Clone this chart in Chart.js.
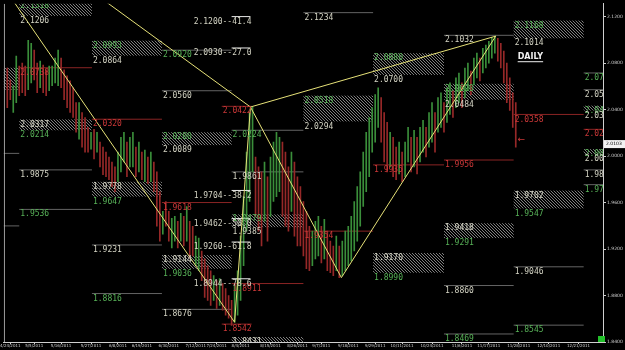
<!DOCTYPE html>
<html>
<head>
<meta charset="utf-8">
<script src="https://cdn.jsdelivr.net/npm/chart.js@4.4.1/dist/chart.umd.min.js"></script>
<style>
  html, body { margin: 0; padding: 0; background: #000; }
  canvas { display: block; }
</style>
</head>
<body>
<canvas id="c" width="625" height="350"></canvas>
<script>
// daily bars, bar index 1..171
const highs = [2.0758,2.0656,2.0605,2.0860,2.0775,2.0800,2.0775,2.0996,2.0971,2.0911,
  2.0800,2.0817,2.0783,2.0741,2.0775,2.0775,2.0843,2.0911,2.0843,2.0741,
  2.0690,2.0647,2.0588,2.0460,2.0460,2.0375,2.0332,2.0247,2.0205,2.0230,
  2.0205,2.0120,2.0077,2.0034,1.9992,1.9949,1.9907,2.0034,2.0162,2.0205,
  2.0120,2.0162,2.0205,2.0077,2.0120,2.0034,2.0051,1.9992,2.0034,1.9949,
  1.9864,1.9694,1.9524,1.9609,1.9524,1.9464,1.9481,1.9439,1.9507,1.9481,
  1.9566,1.9439,1.9396,1.9311,1.9294,1.9183,1.9115,1.9056,1.9013,1.8971,
  1.8928,1.8945,1.8903,1.8860,1.8800,1.8758,1.8886,1.9013,1.9311,1.9651,
  2.0034,2.0375,2.0422,1.9992,1.9907,1.9864,1.9949,1.9822,1.9992,2.0120,
  2.0205,2.0162,2.0120,2.0034,1.9907,2.0034,1.9949,1.9822,1.9737,1.9609,
  1.9524,1.9396,1.9354,1.9439,1.9481,1.9396,1.9456,1.9354,1.9268,1.9226,
  1.9311,1.9226,1.9268,1.9354,1.9396,1.9481,1.9609,1.9737,1.9864,2.0034,
  2.0205,2.0332,2.0417,2.0528,2.0588,2.0503,2.0375,2.0290,2.0205,2.0162,
  2.0077,2.0120,2.0034,2.0120,2.0247,2.0162,2.0222,2.0162,2.0247,2.0307,
  2.0247,2.0375,2.0460,2.0375,2.0503,2.0545,2.0460,2.0588,2.0630,2.0562,
  2.0673,2.0715,2.0630,2.0758,2.0800,2.0732,2.0843,2.0886,2.0843,2.0928,
  2.0954,2.0988,2.1022,2.1032,2.1013,2.0971,2.0903,2.0800,2.0673,2.0545,
  2.0460];
const lows = [2.0417,2.0486,2.0375,2.0460,2.0520,2.0545,2.0520,2.0571,2.0630,2.0656,
  2.0545,2.0588,2.0545,2.0520,2.0562,2.0605,2.0630,2.0605,2.0588,2.0486,
  2.0417,2.0375,2.0332,2.0205,2.0145,2.0077,2.0034,2.0034,2.0060,1.9975,
  2.0034,1.9907,1.9839,1.9822,1.9796,1.9737,1.9694,1.9779,1.9864,1.9949,
  1.9822,1.9907,1.9907,1.9822,1.9864,1.9796,1.9779,1.9762,1.9779,1.9694,
  1.9396,1.9268,1.9328,1.9396,1.9268,1.9209,1.9268,1.9209,1.9268,1.9226,
  1.9268,1.9124,1.9141,1.9056,1.9013,1.8928,1.8783,1.8758,1.8715,1.8758,
  1.8690,1.8715,1.8673,1.8630,1.8605,1.8542,1.8571,1.8630,1.8758,1.9056,
  1.9354,1.9609,1.9864,1.9481,1.9354,1.9226,1.9439,1.9268,1.9481,1.9609,
  1.9651,1.9694,1.9481,1.9396,1.9354,1.9524,1.9311,1.9226,1.9226,1.9141,
  1.9030,1.9013,1.9056,1.9115,1.9141,1.9081,1.9115,1.9013,1.8996,1.8971,
  1.9013,1.8954,1.8971,1.9013,1.9056,1.9098,1.9183,1.9268,1.9396,1.9566,
  1.9694,1.9822,2.0034,2.0120,2.0247,2.0120,1.9949,1.9864,1.9907,1.9822,
  1.9796,1.9847,1.9779,1.9822,1.9949,1.9864,1.9907,1.9847,1.9949,2.0034,
  1.9992,2.0077,2.0120,2.0034,2.0205,2.0247,2.0205,2.0290,2.0358,2.0332,
  2.0417,2.0460,2.0417,2.0503,2.0562,2.0528,2.0613,2.0673,2.0647,2.0715,
  2.0758,2.0800,2.0843,2.0886,2.0817,2.0758,2.0630,2.0460,2.0392,2.0247,
  2.0077];
// u = up bar, d = down bar
const dirs = "dduuddduud" + "dudduuuudd" + "ddddudddud" + "udddddduuu" + "duudududud" +
  "ddudduudud" + "udduuddddu" + "dudddduuuu" + "uuuddduduu" + "uudddudddd" +
  "dduuududdd" + "uduuuuuuuu" + "uuuuudddud" + "duduududuu" + "duuduuduud" +
  "uuduuduudu" + "uuuuddddddd";

const dateLabels = ["4/24/2011","5/5/2011","5/16/2011","5/27/2011","6/8/2011","6/19/2011",
  "6/30/2011","7/12/2011","7/24/2011","8/4/2011","8/15/2011","8/26/2011","9/7/2011",
  "9/18/2011","9/29/2011","10/11/2011","10/24/2011","11/6/2011","11/17/2011",
  "11/28/2011","12/10/2011","12/21/2011"];
const dateTickBars = [2,10,19,29,38,46,55,64,71,79,89,98,106,115,124,133,143,153,162,172,182,192];
const yTicks = [1.84,1.88,1.92,1.96,2.00,2.04,2.08,2.12];
const lastPrice = 2.0103;

// weekly columns for the level lines (bar units)
const colEdges = [-1, 5, 29.3, 52.7, 76, 100, 123.3, 147, 170.3, 193.7, 201];

const levelCol   = [0,0, 1,1,1, 2,2,2, 3,3,3,3, 4,4,4, 5,5, 6, 7,7,7,7, 8,8,8, 9,9,9,9,9];
const levelPrice = [2.0023,1.9399, 2.0760,1.9881,1.9541, 2.0317,1.9235,1.8817,
  2.0911,2.0562,1.9600,1.8681, 2.0222,1.9864,1.8903, 2.1234,1.9354, 1.9924,
  2.1039,1.9966,1.8886,1.8469, 2.0358,1.9047,1.8545, 2.0715,2.0571,2.0230,1.9881,1.9754];
const levelText  = ['','', '2.0738','1.9875','1.9536', '2.0320','1.9231','1.8816',
  '2.0920','2.0560','1.9618','1.8676', '2.0224','1.9861','1.8911', '2.1234','1.9354', '1.9935',
  '2.1032','1.9956','1.8860','1.8469', '2.0358','1.9046','1.8545', '2.0707','2.0571','2.0230','1.9862','1.9740'];
const levelKind  = ['w','w', 'r','w','g', 'r','w','g', 'g','w','r','w', 'g','w','r', 'w','r', 'r',
  'w','r','w','g', 'r','w','g', 'g','w','r','w','g'];

const boxCol    = [1,2,0,1,3,4,2,3,4,5,6,6,7,7,8,8,9,9];
const boxTop    = [2.1336,2.0993,2.0760,2.0315,2.0205,1.9498,1.9779,1.9149,1.8443,
  2.0520,2.0885,1.9166,2.0622,1.9422,2.1166,1.9703,2.0434,2.0060];
const boxBottom = [2.1206,2.0864,2.0571,2.0222,2.0094,1.9388,1.9651,1.9030,1.8390,
  2.0298,2.0698,1.8996,2.0485,1.9294,2.1013,1.9549,2.0392,2.0017];
const boxTopText    = ['2.1318','2.0993','','2.0317','2.0200','1.9479','1.9778','1.9144','1.8431',
  '2.0518','2.0880','1.9170','2.0620','1.9418','2.1168','1.9702','2.0434','2.0060'];
const boxBottomText = ['2.1206','2.0864','','2.0214','2.0089','1.9385','1.9647','1.9036','',
  '2.0294','2.0700','1.8990','2.0484','1.9291','2.1014','1.9547','2.0392','2.0017'];
const boxTone = ['g','g','','w','g','g','w','w','w','g','g','w','g','w','g','w','g','g'];

// swing pivots A and B
const pivotFrom  = [72.7, 72.7];
const pivotTo    = [82.7, 82.7];
const pivotPrice = [2.0428, 1.8554];
const pivotText  = ['2.0422', '1.8542'];

// fib retracement marks
const fibFrom  = 76;
const fibTo    = 82.3;
const fibPrice = [2.1200, 2.0930, 1.9704, 1.9462, 1.9260, 1.8944];
const fibPct   = ['41.4', '27.0', '38.2', '50.0', '61.8', '78.6'];

// harmonic pattern lines
const patX1 = [-0.9, 77, 82.3, 112.7, 164.3];
const patY1 = [2.1481, 1.857, 2.0422, 1.8954, 2.1032];
const patX2 = [25.8, 82.3, 164.3];
const patY2 = [2.1481, 2.0422, 2.1032];

const GREEN = '#3a8e3a', RED = '#962828';
const TXT_W = '#d4d4c4', TXT_G = '#58b258', TXT_R = '#cc3838';
const LINE_GREY = '#646464', LINE_RED = '#8a2424';
const YELLOW = '#e6e178';
const AXIS = '#cfcfcf';
const FONT = '8px "DejaVu Sans Mono"';

const datasets = [];

datasets.push({
  type: 'bar',
  data: highs.map((h, i) => ({ x: i + 1, y: [lows[i], h] })),
  backgroundColor: dirs.split('').map(d => d === 'u' ? GREEN : RED),
  barThickness: 1,
  borderWidth: 0,
  order: 2
});

levelCol.forEach((c, i) => {
  datasets.push({
    type: 'line',
    data: [{ x: colEdges[c], y: levelPrice[i] }, { x: colEdges[c + 1], y: levelPrice[i] }],
    borderColor: levelKind[i] === 'r' ? LINE_RED : LINE_GREY,
    borderWidth: 1, pointRadius: 0, order: 3
  });
});

pivotPrice.forEach((p, i) => {
  datasets.push({
    type: 'line',
    data: [{ x: pivotFrom[i], y: p }, { x: pivotTo[i], y: p }],
    borderColor: LINE_RED, borderWidth: 1, pointRadius: 0, order: 3
  });
});

fibPrice.forEach(p => {
  datasets.push({
    type: 'line',
    data: [{ x: fibFrom, y: p }, { x: fibTo, y: p }],
    borderColor: '#e8e8e8', borderWidth: 1, pointRadius: 0, order: 1
  });
});

datasets.push({
  type: 'line',
  data: patX1.map((x, i) => ({ x, y: patY1[i] })),
  borderColor: YELLOW, borderWidth: 1, pointRadius: 0, order: 0
});
datasets.push({
  type: 'line',
  data: patX2.map((x, i) => ({ x, y: patY2[i] })),
  borderColor: YELLOW, borderWidth: 1, pointRadius: 0, order: 0
});

function makeHatch(ctx) {
  const c = document.createElement('canvas');
  c.width = 3; c.height = 3;
  const g = c.getContext('2d');
  g.fillStyle = '#7e7e7e';
  for (let k = 0; k < 3; k++) g.fillRect(k, k, 1, 1);
  return ctx.createPattern(c, 'repeat');
}

const overlay = {
  id: 'overlay',
  beforeDatasetsDraw(chart) {
    const { ctx, chartArea: a, scales: { x, y } } = chart;
    ctx.save();
    ctx.beginPath();
    ctx.rect(a.left, a.top, a.width, a.height);
    ctx.clip();
    ctx.fillStyle = makeHatch(ctx);
    boxCol.forEach((c, i) => {
      const x0 = x.getPixelForValue(colEdges[c]);
      const x1 = x.getPixelForValue(colEdges[c + 1]);
      const y0 = y.getPixelForValue(boxTop[i]);
      const y1 = y.getPixelForValue(boxBottom[i]);
      ctx.fillRect(x0, y0, x1 - x0, y1 - y0);
    });
    ctx.restore();
  },
  afterDatasetsDraw(chart) {
    const { ctx, chartArea: a, scales: { x, y } } = chart;
    ctx.save();
    ctx.beginPath();
    ctx.rect(a.left, a.top, a.width, a.height);
    ctx.clip();
    ctx.font = FONT;
    ctx.textBaseline = 'top';
    ctx.textAlign = 'left';

    levelCol.forEach((c, i) => {
      if (!levelText[i]) return;
      const k = levelKind[i];
      ctx.fillStyle = k === 'r' ? TXT_R : (k === 'g' ? TXT_G : TXT_W);
      ctx.fillText(levelText[i], x.getPixelForValue(colEdges[c]) + 1, y.getPixelForValue(levelPrice[i]) + 1);
    });

    boxCol.forEach((c, i) => {
      const x0 = x.getPixelForValue(colEdges[c]) + 1;
      const topCol = boxTone[i] === 'g' ? TXT_G : TXT_W;
      const botCol = boxTone[i] === 'g' ? TXT_W : TXT_G;
      if (boxTopText[i]) {
        ctx.fillStyle = topCol;
        ctx.fillText(boxTopText[i], x0, y.getPixelForValue(boxTop[i]) + 1);
      }
      if (boxBottomText[i]) {
        ctx.fillStyle = botCol;
        ctx.fillText(boxBottomText[i], x0, y.getPixelForValue(boxBottom[i]) + 1);
      }
    });

    ctx.fillStyle = TXT_R;
    pivotText.forEach((t, i) => {
      ctx.fillText(t, x.getPixelForValue(pivotFrom[i]) + 1, y.getPixelForValue(pivotPrice[i]) + 1);
    });

    ctx.fillStyle = TXT_W;
    ctx.textAlign = 'right';
    fibPrice.forEach((p, i) => {
      ctx.fillText(p.toFixed(4) + '--' + fibPct[i], x.getPixelForValue(fibTo) + 1, y.getPixelForValue(p) + 1);
    });

    // DAILY tag
    ctx.textAlign = 'left';
    ctx.font = 'bold 8px "DejaVu Sans"';
    ctx.fillStyle = '#f0f0f0';
    const dx = x.getPixelForValue(colEdges[8]) + 4;
    const dy = y.getPixelForValue(2.0885);
    ctx.fillText('DAILY', dx, dy);
    const w = ctx.measureText('DAILY').width;
    ctx.fillRect(dx, dy + 8, w, 1);

    // arrow at last bar
    ctx.fillStyle = TXT_R;
    ctx.font = '9px "DejaVu Sans"';
    ctx.textBaseline = 'middle';
    ctx.fillText('\u2190', x.getPixelForValue(171.6), y.getPixelForValue(2.0137));

    // left border
    ctx.fillStyle = '#b8b8b8';
    ctx.fillRect(a.left, a.top, 1, a.height);
    ctx.restore();
  },
  afterDraw(chart) {
    const { ctx, chartArea: a, scales: { y } } = chart;
    const py = y.getPixelForValue(lastPrice);
    ctx.save();
    ctx.fillStyle = '#f2f2f2';
    ctx.fillRect(a.right + 1, py - 4, 21, 8);
    ctx.fillStyle = '#000';
    ctx.font = '4.5px "DejaVu Sans"';
    ctx.textBaseline = 'middle';
    ctx.fillText(lastPrice.toFixed(4), a.right + 3, py);
    ctx.fillStyle = '#22c02a';
    ctx.fillRect(a.right - 5, a.bottom - 6, 7, 6);
    ctx.restore();
  }
};

new Chart(document.getElementById('c'), {
  type: 'bar',
  data: { datasets },
  plugins: [overlay],
  options: {
    responsive: false,
    animation: false,
    events: [],
    layout: { padding: { left: 2, top: 0, right: 0, bottom: 0 } },
    plugins: { legend: { display: false }, tooltip: { enabled: false } },
    scales: {
      x: {
        type: 'linear',
        min: -1 / 6,
        max: 200.1667,
        offset: false,
        grid: { drawOnChartArea: false, tickLength: 2, color: AXIS, offset: false },
        border: { color: AXIS },
        ticks: {
          autoSkip: false, maxRotation: 0, padding: 0, color: AXIS,
          font: { size: 4, family: 'DejaVu Sans' },
          callback: (v, i) => dateLabels[i]
        },
        afterBuildTicks: s => { s.ticks = dateTickBars.map(v => ({ value: v })); },
        afterFit: s => { s.height = 8; }
      },
      y: {
        position: 'right',
        min: 1.84,
        max: 2.1311,
        grid: { drawOnChartArea: false, tickLength: 3, color: AXIS },
        border: { color: AXIS },
        ticks: {
          padding: 1, color: AXIS,
          font: { size: 4.5, family: 'DejaVu Sans' },
          callback: v => v.toFixed(4)
        },
        afterBuildTicks: s => { s.ticks = yTicks.map(v => ({ value: v })); },
        afterFit: s => { s.width = 22; }
      }
    }
  }
});
</script>
</body>
</html>
